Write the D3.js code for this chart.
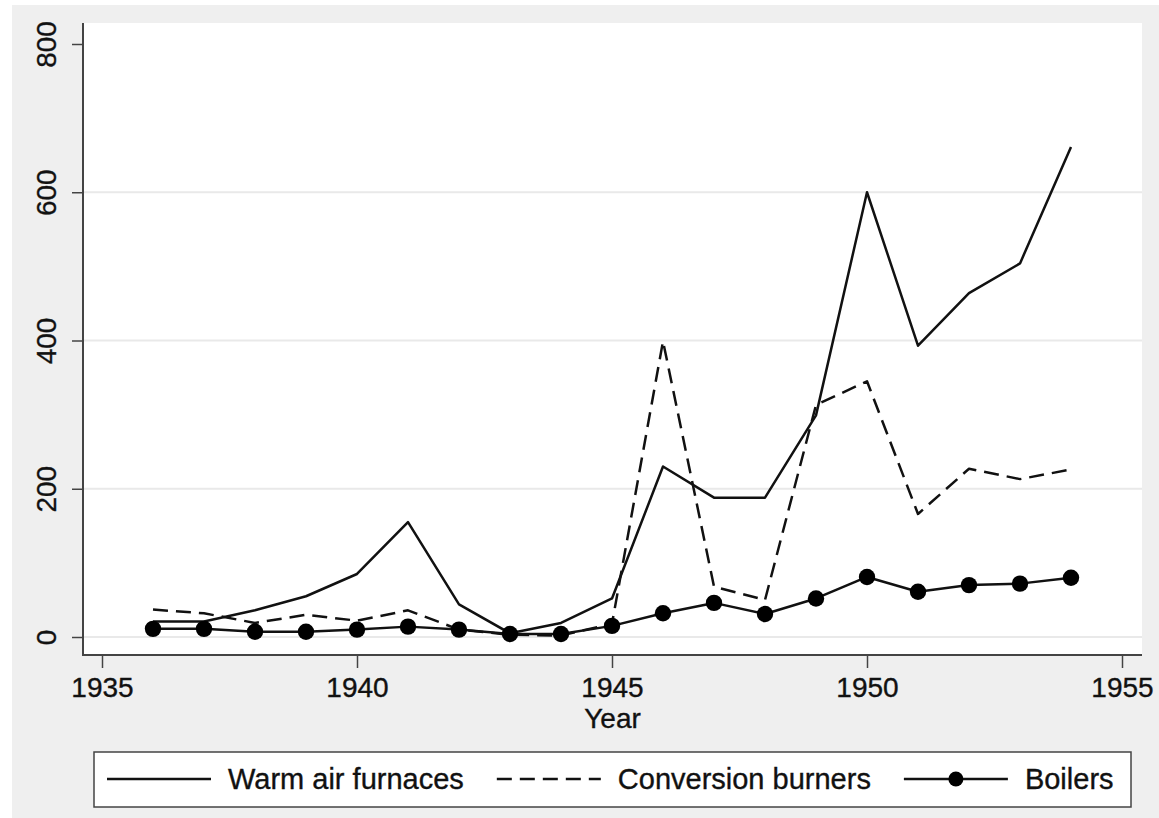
<!DOCTYPE html>
<html>
<head>
<meta charset="utf-8">
<script src="https://cdn.jsdelivr.net/npm/d3@7"></script>
<style>
  html, body { margin: 0; padding: 0; background: #ffffff; }
  svg { display: block; }
  text { font-family: "Liberation Sans", Arial, Helvetica, sans-serif; fill: #111; stroke: #111; stroke-width: 0.35px; }
</style>
</head>
<body>
<svg id="chart" width="1159" height="818"></svg>
<script>
// ---- data ----
const years = [1936, 1937, 1938, 1939, 1940, 1941, 1942, 1943, 1944, 1945,
               1946, 1947, 1948, 1949, 1950, 1951, 1952, 1953, 1954];
const warmAirFurnaces = [21, 21, 36, 55, 85, 155, 44, 5, 19, 52,
                         230, 188, 188, 299, 600, 393, 464, 504, 661];
const conversionBurners = [37, 32, 19, 30, 22, 36, 10, 3, 2, 18,
                           399, 68, 50, 313, 345, 166, 227, 213, 226];
const boilers = [11, 11, 7, 7, 10, 14, 10, 4, 4, 15,
                 32, 46, 31, 52, 81, 61, 70, 72, 80];
const xTicks = [1935, 1940, 1945, 1950, 1955];
const yTicks = [0, 200, 400, 600, 800];
const seriesNames = ["Warm air furnaces", "Conversion burners", "Boilers"];
const xTitle = "Year";

// ---- layout ----
const svg = d3.select("#chart");
const W = 1159, H = 818;
const plot = { left: 83, right: 1142, top: 23, bottom: 655 };

svg.append("rect").attr("x", 0).attr("y", 0).attr("width", W).attr("height", H).attr("fill", "#ffffff");
svg.append("rect").attr("x", 12).attr("y", 5).attr("width", W - 12).attr("height", H - 5).attr("fill", "#efefef");
svg.append("rect")
  .attr("x", plot.left).attr("y", plot.top)
  .attr("width", plot.right - plot.left).attr("height", plot.bottom - plot.top)
  .attr("fill", "#ffffff");

const x = d3.scaleLinear().domain([1935, 1955]).range([102, 1122]);
const y = d3.scaleLinear().domain([0, 800]).range([637, 44]);

// gridlines
svg.append("g").selectAll("line")
  .data(yTicks.filter(v => v < 800))
  .join("line")
  .attr("x1", plot.left).attr("x2", plot.right)
  .attr("y1", d => y(d)).attr("y2", d => y(d))
  .attr("stroke", "#e9e9e9").attr("stroke-width", 2);

// axes
const axisColor = "#444";
const yAxis = svg.append("g")
  .attr("transform", `translate(${plot.left},0)`)
  .call(d3.axisLeft(y).tickValues(yTicks).tickSize(11).tickSizeOuter(0));
yAxis.select(".domain").remove();
yAxis.selectAll(".tick line").attr("stroke", axisColor).attr("stroke-width", 1.5);
yAxis.selectAll(".tick text")
  .attr("transform", "rotate(-90)")
  .attr("x", 0).attr("y", -27).attr("dy", 0)
  .attr("text-anchor", "middle")
  .style("font-size", "28px")
  .style("font-family", "'Liberation Sans', Arial, Helvetica, sans-serif")
  .attr("fill", "#111");

const xAxis = svg.append("g")
  .attr("transform", `translate(0,${plot.bottom})`)
  .call(d3.axisBottom(x).tickValues(xTicks).tickFormat(d3.format("d")).tickSize(13).tickSizeOuter(0));
xAxis.select(".domain").remove();
xAxis.selectAll(".tick line").attr("stroke", axisColor).attr("stroke-width", 1.5);
xAxis.selectAll(".tick text")
  .attr("y", 42).attr("dy", 0)
  .style("font-size", "28px")
  .style("font-family", "'Liberation Sans', Arial, Helvetica, sans-serif")
  .attr("fill", "#111");

svg.append("line")
  .attr("x1", plot.left).attr("x2", plot.left)
  .attr("y1", plot.top).attr("y2", plot.bottom + 1)
  .attr("stroke", axisColor).attr("stroke-width", 2);
svg.append("line")
  .attr("x1", plot.left - 1).attr("x2", plot.right)
  .attr("y1", plot.bottom).attr("y2", plot.bottom)
  .attr("stroke", axisColor).attr("stroke-width", 2);

svg.append("text")
  .attr("x", (plot.left + plot.right) / 2).attr("y", 728)
  .attr("text-anchor", "middle")
  .style("font-size", "28px")
  .text(xTitle);

// series
const line = d3.line().x(d => x(d[0])).y(d => y(d[1]));
const series = [
  { name: seriesNames[0], values: warmAirFurnaces, dash: null, marker: false },
  { name: seriesNames[1], values: conversionBurners, dash: "15,8", marker: false },
  { name: seriesNames[2], values: boilers, dash: null, marker: true }
];

const g = svg.append("g");
series.forEach(s => {
  const pts = years.map((yr, i) => [yr, s.values[i]]);
  g.append("path")
    .attr("d", line(pts))
    .attr("fill", "none")
    .attr("stroke", "#111")
    .attr("stroke-width", 2.5)
    .attr("stroke-linejoin", "round")
    .attr("stroke-dasharray", s.dash);
  if (s.marker) {
    g.selectAll(null).data(pts).join("circle")
      .attr("cx", d => x(d[0])).attr("cy", d => y(d[1]))
      .attr("r", 8.2).attr("fill", "#000");
  }
});

// legend
const leg = svg.append("g");
leg.append("rect")
  .attr("x", 94).attr("y", 752).attr("width", 1037).attr("height", 55)
  .attr("fill", "#ffffff").attr("stroke", axisColor).attr("stroke-width", 1.5);
let cx = 107;
const sampleW = 104, legY = 779;
series.forEach(s => {
  leg.append("line")
    .attr("x1", cx).attr("x2", cx + sampleW)
    .attr("y1", legY).attr("y2", legY)
    .attr("stroke", "#111").attr("stroke-width", 2.5)
    .attr("stroke-dasharray", s.dash);
  if (s.marker) {
    leg.append("circle").attr("cx", cx + sampleW / 2).attr("cy", legY).attr("r", 7.5).attr("fill", "#000");
  }
  const t = leg.append("text")
    .attr("x", cx + sampleW + 17).attr("y", 789)
    .style("font-size", "29px")
    .text(s.name);
  cx = cx + sampleW + 17 + t.node().getComputedTextLength() + 33;
});
</script>
</body>
</html>
